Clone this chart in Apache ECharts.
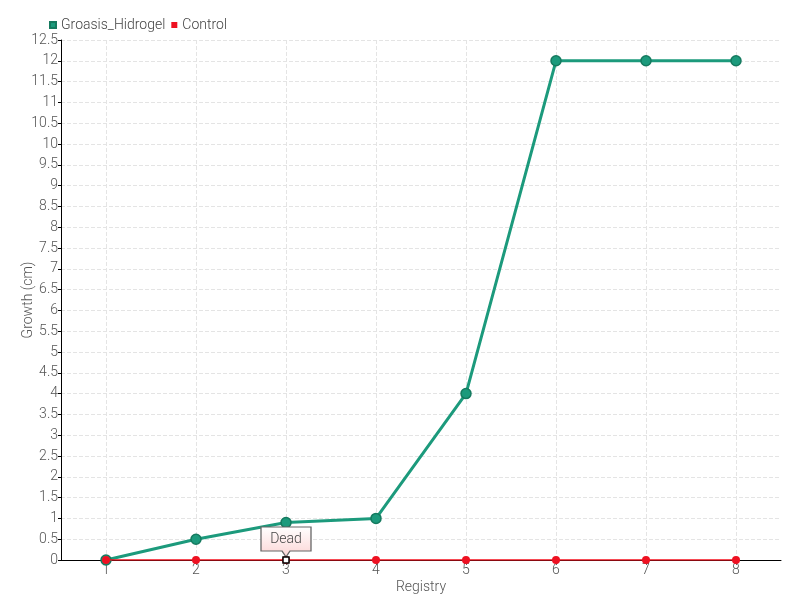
<!DOCTYPE html>
<html><head><meta charset="utf-8">
<script src="https://cdn.jsdelivr.net/npm/echarts@6/dist/echarts.min.js"></script>
<style>html,body{margin:0;padding:0;background:#fff}#c{width:800px;height:600px}</style>
</head><body><div id="c"></div>
<script>
var categories = ['1','2','3','4','5','6','7','8'];
var groasis = [0, 0.5, 0.9, 1, 4, 12, 12, 12];
var control = [0, 0, 0, 0, 0, 0, 0, 0];
var deadIndex = 2;
var deadLabel = 'Dead';
var font = 'Roboto, sans-serif';
var fw = 300;
var chart = echarts.init(document.getElementById('c'));
chart.setOption({
  animation: false,
  textStyle: {fontFamily: font},
  legend: {
    left: 44, top: 13, itemWidth: 6, itemHeight: 6, itemGap: 6,
    textStyle: {fontFamily: font, fontWeight: fw, fontSize: 14, color: '#444'},
    data: [{name: 'Groasis_Hidrogel', icon: 'rect'}, {name: 'Control', icon: 'rect'}]
  },
  grid: {left: 61, right: 19, top: 40, bottom: 40, outerBoundsMode: 'none', containLabel: false},
  xAxis: {
    type: 'category', data: categories, boundaryGap: true,
    name: 'Registry', nameLocation: 'middle', nameGap: 20, nameMoveOverlap: false,
    nameTextStyle: {fontFamily: font, fontWeight: fw, fontSize: 14, color: '#555'},
    axisLine: {lineStyle: {color: '#000'}},
    axisTick: {show: true, alignWithLabel: true, length: 5, lineStyle: {color: '#666'}},
    axisLabel: {fontFamily: font, fontWeight: fw, fontSize: 14, color: '#555', margin: 3},
    splitLine: {show: false}
  },
  yAxis: {
    type: 'value', min: 0, max: 12.5, interval: 0.5,
    name: 'Growth (cm)', nameLocation: 'middle', nameGap: 26, nameMoveOverlap: false,
    nameTextStyle: {fontFamily: font, fontWeight: fw, fontSize: 14, color: '#555'},
    axisLine: {show: true, lineStyle: {color: '#000'}},
    axisTick: {show: true, length: 3, lineStyle: {color: '#000'}},
    axisLabel: {fontFamily: font, fontWeight: fw, fontSize: 14, color: '#555', margin: 3},
    splitLine: {show: true, lineStyle: {type: 'dashed', color: '#e4e4e4'}}
  },
  series: [
    {
      name: 'grid-lines', type: 'line', data: [], z: 1, silent: true,
      markLine: {
        silent: true, symbol: 'none', animation: false, z: 1,
        label: {show: false},
        lineStyle: {type: 'dashed', color: '#e4e4e4', width: 1},
        data: categories.map(function (c) { return {xAxis: c}; })
      }
    },
    {
      name: 'Groasis_Hidrogel', type: 'line', data: groasis, z: 3,
      symbol: 'circle', symbolSize: 10,
      lineStyle: {width: 3, color: '#1c9a7c'},
      itemStyle: {color: '#1c9a7c', borderColor: '#157a5f', borderWidth: 1.5}
    },
    {
      name: 'Control', type: 'line', data: control, z: 4,
      symbol: 'circle', symbolSize: 8,
      lineStyle: {width: 1.6, color: '#f5101e'},
      itemStyle: {color: '#ee1122'},
      markPoint: {
        animation: false,
        data: [
          {
            coord: [deadIndex, 0], symbol: 'path://M0,0 L50,0 L50,24 L29,24 L25,30 L21,24 L0,24 Z',
            symbolSize: [50, 30], symbolOffset: [0, -18], symbolKeepAspect: false,
            itemStyle: {
              color: new echarts.graphic.LinearGradient(0, 0, 0, 1, [{offset: 0, color: '#ffffff'}, {offset: 1, color: '#fcd4d4'}]),
              borderColor: '#666', borderWidth: 1
            },
            label: {show: true, formatter: deadLabel, position: 'inside', offset: [0, -3],
              fontFamily: font, fontWeight: fw, fontSize: 14, color: '#444'}
          },
          {
            coord: [deadIndex, 0], symbol: 'rect', symbolSize: 6,
            itemStyle: {color: '#fff', borderColor: '#000', borderWidth: 1.5},
            label: {show: false}
          }
        ]
      }
    }
  ]
});
</script></body></html>
